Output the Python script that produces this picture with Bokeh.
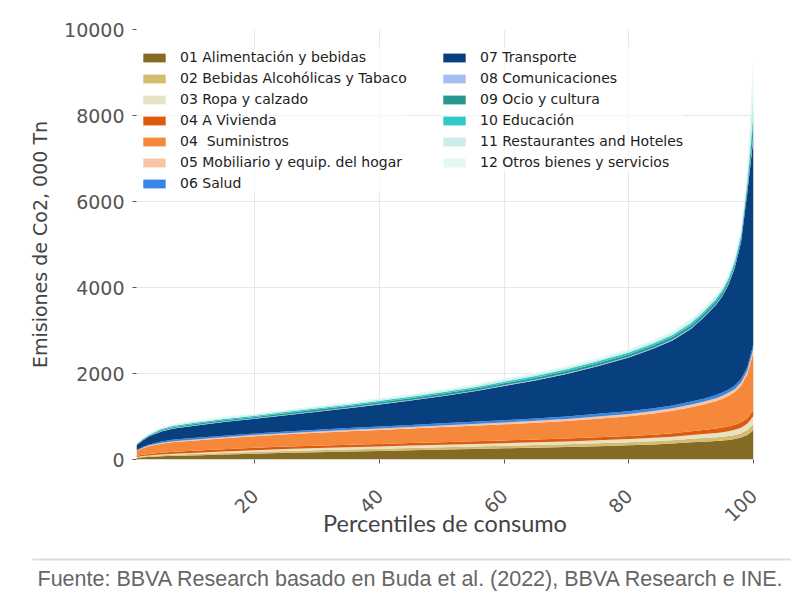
import math
from bokeh.plotting import figure
from bokeh.models import ColumnDataSource, Legend, LegendItem, FixedTicker
from bokeh.embed import file_html
from bokeh.resources import INLINE
from bokeh.core.properties import value

percentiles = [1, 2, 3, 5, 7, 10, 15, 20, 25, 30, 35, 40, 45, 50, 55, 60, 65, 70, 75, 80,
               84, 87, 90, 92, 94, 95, 96, 97, 98, 99, 100]

alimentacion = [35, 50, 60, 75, 85, 95, 115, 135, 155, 170, 185, 200, 215, 230, 245, 260, 275, 290, 310, 330,
                350, 370, 400, 415, 430, 440, 455, 475, 510, 570, 680]
bebidas = [15, 18, 20, 25, 28, 32, 38, 42, 45, 48, 50, 52, 54, 56, 58, 60, 62, 64, 67, 70,
           73, 76, 80, 83, 86, 88, 92, 96, 102, 115, 150]
ropa = [10, 12, 14, 18, 22, 26, 32, 40, 44, 47, 50, 52, 54, 56, 58, 60, 63, 66, 70, 75,
        80, 85, 90, 95, 100, 105, 110, 118, 128, 145, 180]
vivienda = [25, 30, 35, 40, 45, 48, 52, 55, 56, 57, 58, 59, 60, 61, 62, 63, 64, 66, 68, 70,
            75, 80, 88, 95, 105, 110, 115, 120, 125, 130, 140]
suministros = [110, 150, 180, 210, 225, 235, 255, 270, 285, 300, 312, 325, 337, 350, 362, 375, 390, 410, 435, 460,
               490, 520, 560, 590, 640, 670, 710, 760, 850, 1020, 1350]
mobiliario = [10, 12, 14, 18, 20, 22, 24, 26, 28, 30, 32, 34, 36, 38, 40, 42, 45, 48, 52, 56,
              58, 60, 62, 64, 66, 68, 70, 72, 75, 78, 85]
salud = [15, 20, 25, 35, 38, 40, 38, 38, 40, 42, 44, 46, 48, 50, 52, 54, 56, 58, 60, 62,
         64, 66, 68, 70, 72, 75, 78, 80, 85, 90, 100]
transporte = [110, 150, 185, 230, 257, 282, 316, 339, 377, 416, 459, 512, 566, 629, 703, 796, 885, 988, 1108, 1247,
              1390, 1513, 1692, 1888, 2100, 2240, 2440, 2740, 3175, 4052, 4815]
comunicaciones = [5, 6, 7, 10, 10, 12, 12, 13, 13, 14, 14, 14, 15, 15, 15, 16, 16, 17, 17, 18,
                  18, 19, 20, 20, 20, 20, 21, 22, 25, 40, 100]
ocio = [10, 14, 16, 25, 28, 30, 32, 33, 35, 36, 38, 40, 41, 42, 44, 45, 47, 49, 52, 55,
        57, 58, 60, 62, 64, 65, 67, 70, 80, 120, 300]
educacion = [10, 14, 16, 25, 27, 28, 28, 28, 30, 31, 32, 34, 35, 37, 38, 40, 41, 42, 44, 45,
             48, 50, 55, 55, 55, 55, 56, 58, 65, 90, 200]
restaurantes = [10, 13, 15, 20, 22, 25, 26, 25, 27, 28, 29, 30, 31, 32, 34, 35, 36, 37, 38, 40,
                43, 46, 50, 52, 54, 55, 57, 60, 80, 150, 650]
otros = [10, 13, 16, 20, 23, 25, 27, 26, 27, 28, 29, 30, 31, 32, 34, 35, 36, 37, 39, 42,
         45, 50, 55, 55, 55, 55, 57, 60, 80, 150, 650]

labels = ["01 Alimentación y bebidas", "02 Bebidas Alcohólicas y Tabaco", "03 Ropa y calzado",
          "04 A Vivienda", "04  Suministros", "05 Mobiliario y equip. del hogar", "06 Salud",
          "07 Transporte", "08 Comunicaciones", "09 Ocio y cultura", "10 Educación",
          "11 Restaurantes and Hoteles", "12 Otros bienes y servicios"]
colors = ["#836b26", "#d4bb6e", "#e8e2c4", "#dd5a0f", "#f5883a", "#f8c4a4", "#3a86e6",
          "#08407f", "#a6bdf2", "#25978e", "#2ec9c9", "#c9eee8", "#e2f8f4"]
y_ticks = [0, 2000, 4000, 6000, 8000, 10000]
x_ticks = [20, 40, 60, 80, 100]
source_text = "Fuente: BBVA Research basado en Buda et al. (2022), BBVA Research e INE."

series = [alimentacion, bebidas, ropa, vivienda, suministros, mobiliario, salud, transporte,
          comunicaciones, ocio, educacion, restaurantes, otros]
keys = ["s%02d" % i for i in range(len(series))]
data = {"x": percentiles}
for k, s in zip(keys, series):
    data[k] = s
src = ColumnDataSource(data)

p = figure(width=791, height=553, x_range=(1, 100), y_range=(0, 10000),
           toolbar_location=None, output_backend="svg",
           frame_width=617, frame_height=430,
           min_border_left=136, min_border_right=38, min_border_top=29, min_border_bottom=94)
p.outline_line_color = None
p.background_fill_color = "white"

renderers = p.varea_stack(stackers=keys, x="x", source=src, color=colors)

legend1 = Legend(items=[LegendItem(label=labels[i], renderers=[renderers[i]]) for i in range(7)],
                 location=(4, 266))
legend2 = Legend(items=[LegendItem(label=labels[i], renderers=[renderers[i]]) for i in range(7, 13)],
                 location=(304, 287))
for lg in (legend1, legend2):
    lg.padding = 0
    lg.margin = 0
    lg.spacing = 1
    lg.label_height = 20
    lg.glyph_height = 11
    lg.glyph_width = 28
    lg.label_standoff = 12
    lg.label_text_font = "DejaVu Sans"
    lg.label_text_font_size = "14px"
    lg.label_text_color = "#222222"
    lg.background_fill_alpha = 0.6
    lg.border_line_alpha = 0
    p.add_layout(lg, "center")

p.xaxis.ticker = FixedTicker(ticks=x_ticks)
p.yaxis.ticker = FixedTicker(ticks=y_ticks)
for ax in (p.xaxis[0], p.yaxis[0]):
    ax.axis_line_color = None
    ax.major_tick_line_color = "#555555"
    ax.major_tick_out = 4
    ax.major_tick_in = 0
    ax.minor_tick_line_color = None
    ax.major_label_text_font = "DejaVu Sans"
    ax.major_label_text_font_size = "19px"
    ax.major_label_text_color = "#555555"
    ax.axis_label_text_font_style = "normal"
    ax.axis_label_text_color = "#444444"

p.yaxis.major_label_standoff = 8
p.yaxis.axis_label = "Emisiones de Co2, 000 Tn"
p.yaxis.axis_label_text_font = "DejaVu Sans"
p.yaxis.axis_label_text_font_size = "19px"
p.yaxis.axis_label_standoff = 10

p.xaxis.major_label_orientation = math.pi / 4
p.xaxis.major_label_standoff = 29
p.xaxis.axis_label = "Percentiles de consumo"
p.xaxis.axis_label_text_font = "Lato"
p.xaxis.axis_label_text_font_size = "23.5px"
p.xaxis.axis_label_standoff = -22

p.xgrid.grid_line_color = "#e8e8e8"
p.ygrid.grid_line_color = "#e8e8e8"

foot = figure(width=791, height=45, x_range=(0, 791), y_range=(0, 45),
              toolbar_location=None, output_backend="svg", min_border=0)
foot.axis.visible = False
foot.grid.visible = False
foot.outline_line_color = None
foot.segment(x0=[32], x1=[791], y0=[39], y1=[39], line_color="#dddddd", line_width=2)
foot.text(x=[37], y=[20], text=[source_text],
          text_font=value("Liberation Sans"), text_font_size="21.5px", text_color="#666666",
          text_baseline="middle", text_align="left")

open("out.html", "w").write(file_html([p, foot], INLINE))
